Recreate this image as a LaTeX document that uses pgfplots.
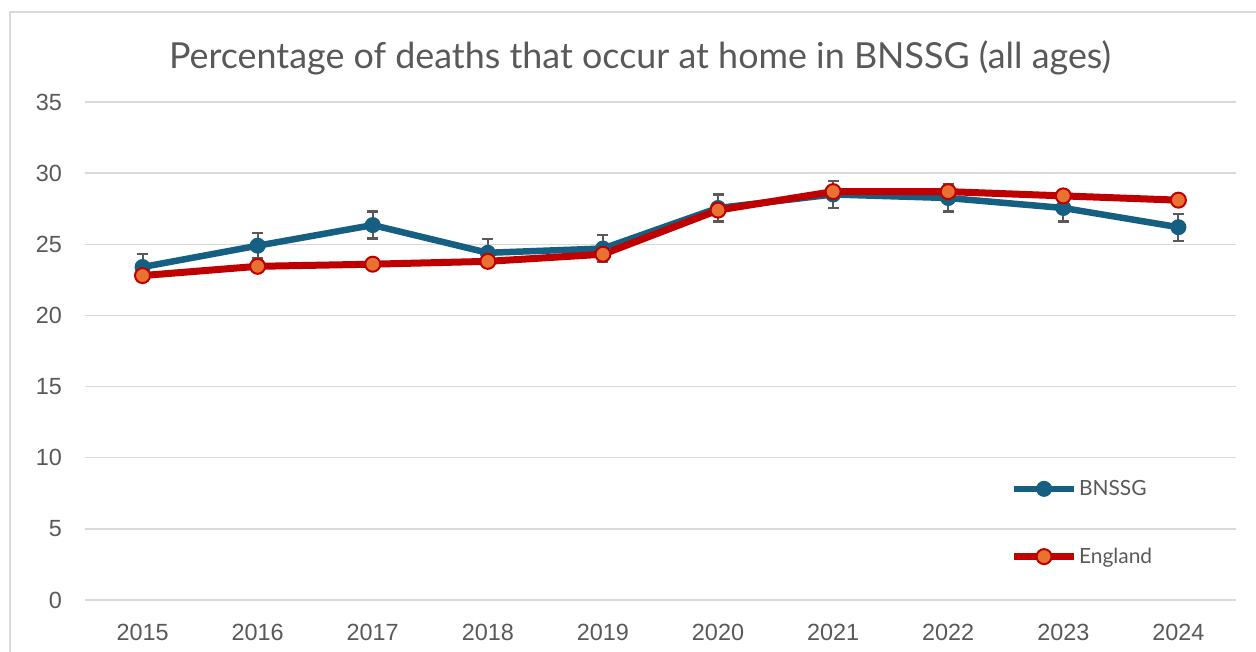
\documentclass[border=0pt]{standalone}
\usepackage{fontspec}
\setmainfont{Liberation Sans}
\newfontfamily\titlefont{Lato}
\usepackage{pgfplots}
\pgfplotsset{compat=1.18}
\definecolor{bn}{HTML}{156082}
\definecolor{en}{HTML}{C00000}
\definecolor{enf}{HTML}{E97132}
\definecolor{txt}{HTML}{595959}
\definecolor{gridc}{HTML}{D9D9D9}
\definecolor{err}{HTML}{595959}
\begin{document}
\begin{tikzpicture}[x=1bp,y=1bp]
\useasboundingbox (0,0) rectangle (1256,652);
\fill[white] (0,0) rectangle (1256,652);
\draw[gridc,line width=1.5bp] (10,-5) -- (10,640) -- (1262,640);
\node[text=txt,font=\titlefont\fontsize{36}{42}\selectfont] at (640,594) {Percentage of deaths that occur at home in BNSSG (all ages)};
\begin{axis}[at={(85bp,52bp)}, anchor=south west, scale only axis,
  width=1151bp, height=498bp,
  xmin=-0.5, xmax=9.5, ymin=0, ymax=35,
  xtick={0,1,2,3,4,5,6,7,8,9},
  xticklabels={2015,2016,2017,2018,2019,2020,2021,2022,2023,2024},
  ytick={0,5,10,15,20,25,30,35},
  ymajorgrids, grid style={gridc,line width=1.5bp},
  axis line style={draw=none}, major tick length=0pt,
  tick label style={text=txt,font=\fontsize{23.5}{27}\selectfont},
  /pgf/number format/assume math mode=true,
  yticklabel style={inner sep=0pt, anchor=east, xshift=-23bp},
  xticklabel style={inner sep=0pt, anchor=center, yshift=-32bp},
  legend image code/.code={\draw[mark repeat=2,mark phase=2] plot coordinates {(0bp,0bp) (30bp,0bp) (60bp,0bp)};},
  legend style={draw=none, fill=none, text=txt, font=\titlefont\fontsize{21}{24}\selectfont,
    at={(0.804,0.155)}, anchor=west, row sep=48bp, inner sep=0pt,
    nodes={inner sep=1.5bp}},
  legend cell align=left,
]
\addplot[bn, line width=6.5bp, mark=*, mark size=7.5bp, mark options={fill=bn, draw=bn, line width=1bp},
  error bars/.cd, y dir=both, y explicit,
  error bar style={err, line width=2bp},
  error mark options={rotate=90, mark size=5.5bp, line width=2.2bp, err}]
coordinates {
(0,23.4) +- (0,0.9)
(1,24.9) +- (0,0.9)
(2,26.35) +- (0,0.95)
(3,24.4) +- (0,0.95)
(4,24.7) +- (0,0.95)
(5,27.55) +- (0,0.95)
(6,28.5) +- (0,0.95)
(7,28.25) +- (0,0.95)
(8,27.55) +- (0,0.95)
(9,26.2) +- (0,0.95)
};
\addlegendentry{BNSSG}
\addplot[en, line width=7bp, mark=*, mark size=7.5bp, mark options={fill=enf, draw=en, line width=2bp}]
coordinates {
(0,22.8) (1,23.45) (2,23.6) (3,23.8) (4,24.3) (5,27.4) (6,28.7) (7,28.7) (8,28.4) (9,28.1)
};
\addlegendentry{England}
\end{axis}
\end{tikzpicture}
\end{document}
